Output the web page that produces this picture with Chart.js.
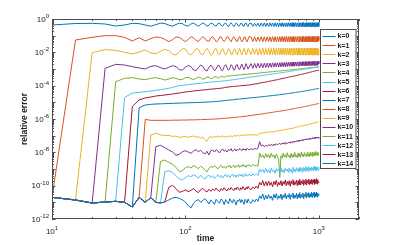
<!DOCTYPE html>
<html><head><meta charset="utf-8">
<script src="https://cdn.jsdelivr.net/npm/chart.js@4"></script>
<style>html,body{margin:0;padding:0;background:#fff;}canvas{display:block}</style>
</head><body>
<canvas id="c" width="397" height="245"></canvas>
<script>
// time grid (x values)
const times = [
10,15,20,25,30,35,40,45,50,55,
60,65,70,75,80,85,90,95,100,105,
110,115,120,125,130,135,140,145,150,155,
160,165,170,175,180,185,190,195,200,205,
210,215,220,225,230,235,240,245,250,255,
260,265,270,275,280,285,290,295,300,
310,320,330,340,350,360,370,380,390,400,
410,420,430,440,450,460,470,480,490,500,
510,520,530,540,550,560,570,580,590,600,
610,620,630,640,650,660,670,680,690,700,
710,720,730,740,750,760,770,780,790,800,
810,820,830,840,850,860,870,880,890,900,
910,920,930,940,950,960,970,980,990,1000];

const seriesNames = ['k=0','k=1','k=2','k=3','k=4','k=5','k=6','k=7','k=8','k=9','k=10','k=11','k=12','k=13','k=14'];

// log10(relative error); each list starts where the series leaves the k=14 curve
const k0 = [
-0.36,-0.27,-0.26,-0.30,-0.42,-0.36,-0.26,-0.28,-0.36,-0.43,
-0.34,-0.25,-0.27,-0.37,-0.43,-0.33,-0.25,-0.28,-0.39,-0.42,
-0.30,-0.24,-0.34,-0.44,-0.33,-0.24,-0.31,-0.43,-0.38,-0.25,
-0.27,-0.40,-0.42,-0.28,-0.25,-0.38,-0.44,-0.30,-0.24,-0.35,
-0.45,-0.34,-0.23,-0.33,-0.45,-0.36,-0.24,-0.30,-0.44,-0.40,
-0.25,-0.27,-0.42,-0.43,-0.27,-0.24,-0.40,-0.45,-0.29,
-0.24,-0.44,-0.26,-0.43,-0.25,-0.45,-0.24,-0.44,-0.23,-0.45,
-0.24,-0.45,-0.23,-0.44,-0.24,-0.46,-0.23,-0.45,-0.24,-0.46,
-0.23,-0.45,-0.22,-0.46,-0.24,-0.45,-0.23,-0.46,-0.22,-0.45,
-0.23,-0.46,-0.22,-0.45,-0.23,-0.46,-0.22,-0.46,-0.23,-0.45,
-0.22,-0.46,-0.23,-0.46,-0.22,-0.45,-0.22,-0.46,-0.23,-0.46,
-0.22,-0.46,-0.22,-0.45,-0.23,-0.46,-0.22,-0.46,-0.22,-0.45,
-0.23,-0.46,-0.22,-0.46,-0.22,-0.45,-0.23,-0.46,-0.22,-0.44];

const k1 = [
-1.26,-1.10,-1.00,-1.00,-1.10,-1.32,-1.12,-1.32,-1.18,
-1.08,-1.10,-1.22,-1.36,-1.24,-1.08,-1.10,-1.24,-1.36,-1.22,
-1.07,-1.12,-1.28,-1.36,-1.18,-1.06,-1.16,-1.32,-1.34,-1.14,
-1.06,-1.20,-1.36,-1.30,-1.10,-1.07,-1.24,-1.36,-1.24,-1.07,
-1.10,-1.28,-1.37,-1.18,-1.06,-1.16,-1.33,-1.34,-1.12,-1.06,
-1.22,-1.37,-1.28,-1.08,-1.08,-1.28,-1.37,-1.20,-1.06,
-1.08,-1.35,-1.07,-1.36,-1.08,-1.34,-1.06,-1.36,-1.07,-1.35,
-1.06,-1.36,-1.07,-1.37,-1.06,-1.36,-1.06,-1.37,-1.07,-1.36,
-1.06,-1.37,-1.05,-1.36,-1.06,-1.37,-1.05,-1.36,-1.06,-1.37,
-1.05,-1.36,-1.06,-1.37,-1.05,-1.37,-1.06,-1.36,-1.05,-1.37,
-1.05,-1.37,-1.06,-1.36,-1.05,-1.37,-1.05,-1.36,-1.06,-1.37,
-1.05,-1.36,-1.05,-1.37,-1.06,-1.37,-1.05,-1.36,-1.05,-1.37,
-1.06,-1.37,-1.05,-1.36,-1.05,-1.37,-1.06,-1.37,-1.05,-1.30];

const k2 = [
-2.02,-1.84,-1.88,-2.00,-2.10,-1.98,-1.86,-2.04,
-2.08,-1.94,-1.82,-1.90,-2.10,-2.16,-1.98,-1.78,-1.80,-2.06,
-2.16,-2.00,-1.78,-1.82,-2.08,-2.16,-1.92,-1.76,-1.94,-2.16,
-2.10,-1.82,-1.78,-2.06,-2.16,-1.90,-1.76,-1.98,-2.16,-2.02,
-1.78,-1.84,-2.12,-2.12,-1.82,-1.78,-2.06,-2.16,-1.90,-1.76,
-2.00,-2.16,-1.96,-1.76,-1.92,-2.16,-2.04,-1.76,-1.86,
-2.14,-1.76,-2.12,-1.78,-2.16,-1.76,-2.14,-1.75,-2.16,-1.76,
-2.15,-1.75,-2.16,-1.76,-2.14,-1.75,-2.16,-1.76,-2.15,-1.74,
-2.16,-1.75,-2.15,-1.74,-2.16,-1.75,-2.16,-1.74,-2.15,-1.76,
-2.16,-1.74,-2.17,-1.75,-2.16,-1.74,-2.16,-1.75,-2.17,-1.74,
-2.16,-1.75,-2.17,-1.74,-2.16,-1.75,-2.17,-1.74,-2.16,-1.75,
-2.17,-1.74,-2.16,-1.75,-2.17,-1.74,-2.16,-1.74,-2.17,-1.75,
-2.16,-1.74,-2.17,-1.75,-2.16,-1.74,-2.17,-1.75,-2.16,-1.80];

const k3 = [
-2.96,-2.72,-2.76,-2.86,-2.94,-3.00,-2.84,
-2.80,-2.92,-3.00,-2.90,-2.80,-2.86,-3.04,-3.06,-2.90,-2.78,
-2.86,-3.06,-3.10,-2.92,-2.76,-2.84,-3.06,-3.12,-2.90,-2.76,
-2.90,-3.10,-3.00,-2.78,-2.80,-3.04,-3.10,-2.86,-2.74,-2.92,
-3.08,-2.96,-2.74,-2.84,-3.06,-3.02,-2.76,-2.74,-2.98,-3.04,
-2.82,-2.70,-2.90,-3.04,-2.86,-2.68,-2.84,-3.00,-2.88,
-2.68,-2.96,-2.67,-2.95,-2.66,-2.94,-2.66,-2.93,-2.65,-2.92,
-2.64,-2.91,-2.64,-2.90,-2.63,-2.89,-2.63,-2.88,-2.62,-2.88,
-2.62,-2.87,-2.61,-2.86,-2.61,-2.86,-2.60,-2.85,-2.60,-2.84,
-2.59,-2.84,-2.59,-2.83,-2.58,-2.83,-2.58,-2.82,-2.58,-2.82,
-2.57,-2.81,-2.57,-2.81,-2.57,-2.80,-2.56,-2.80,-2.56,-2.80,
-2.56,-2.79,-2.56,-2.79,-2.55,-2.79,-2.55,-2.78,-2.55,-2.78,
-2.55,-2.78,-2.54,-2.78,-2.54,-2.77,-2.54,-2.77,-2.54,-2.70];

const k4 = [
-3.76,-3.56,-3.52,-3.60,-3.64,-3.56,
-3.52,-3.58,-3.66,-3.60,-3.52,-3.56,-3.64,-3.62,-3.52,-3.50,
-3.58,-3.64,-3.56,-3.48,-3.52,-3.62,-3.58,-3.48,-3.48,-3.58,
-3.56,-3.46,-3.46,-3.54,-3.52,-3.44,-3.44,-3.50,-3.46,-3.42,
-3.42,-3.42,-3.40,-3.40,-3.39,-3.38,-3.38,-3.37,-3.36,-3.36,
-3.35,-3.34,-3.34,-3.33,-3.33,-3.32,-3.31,-3.31,-3.30,
-3.29,-3.28,-3.27,-3.26,-3.25,-3.24,-3.23,-3.22,-3.21,-3.20,
-3.19,-3.18,-3.17,-3.17,-3.16,-3.15,-3.14,-3.14,-3.13,-3.12,
-3.12,-3.11,-3.10,-3.10,-3.09,-3.08,-3.08,-3.07,-3.07,-3.06,
-3.06,-3.05,-3.05,-3.04,-3.03,-3.03,-3.02,-3.02,-3.01,-3.00,
-3.00,-2.99,-2.99,-2.98,-2.98,-2.97,-2.97,-2.96,-2.96,-2.95,
-2.95,-2.94,-2.94,-2.93,-2.93,-2.92,-2.92,-2.91,-2.91,-2.90,
-2.90,-2.90,-2.89,-2.89,-2.88,-2.88,-2.87,-2.87,-2.86,-2.86];

const k5 = [
-4.70,-4.45,-4.40,-4.36,-4.32,
-4.28,-4.24,-4.20,-4.16,-4.10,-4.05,-4.00,-3.98,-3.96,-3.94,
-3.92,-3.90,-3.88,-3.87,-3.86,-3.84,-3.83,-3.82,-3.80,-3.79,
-3.78,-3.77,-3.76,-3.75,-3.74,-3.73,-3.72,-3.71,-3.70,-3.69,
-3.68,-3.67,-3.66,-3.65,-3.64,-3.63,-3.62,-3.61,-3.60,-3.59,
-3.58,-3.57,-3.56,-3.55,-3.54,-3.53,-3.52,-3.51,-3.50,
-3.49,-3.47,-3.46,-3.44,-3.43,-3.41,-3.40,-3.39,-3.37,-3.36,
-3.35,-3.34,-3.32,-3.31,-3.30,-3.29,-3.28,-3.27,-3.26,-3.25,
-3.24,-3.23,-3.22,-3.21,-3.20,-3.19,-3.18,-3.17,-3.16,-3.15,
-3.14,-3.13,-3.12,-3.11,-3.10,-3.10,-3.09,-3.08,-3.07,-3.06,
-3.06,-3.05,-3.04,-3.04,-3.03,-3.02,-3.02,-3.01,-3.00,-3.00,
-2.99,-2.98,-2.98,-2.97,-2.96,-2.96,-2.95,-2.94,-2.94,-2.93,
-2.93,-2.92,-2.92,-2.91,-2.91,-2.90,-2.90,-2.89,-2.89,-2.88];

const k6 = [
-5.25,-4.85,-4.74,-4.68,
-4.62,-4.59,-4.56,-4.53,-4.50,-4.47,-4.44,-4.41,-4.38,-4.36,
-4.34,-4.32,-4.30,-4.29,-4.27,-4.26,-4.25,-4.24,-4.22,-4.21,
-4.20,-4.19,-4.18,-4.17,-4.16,-4.15,-4.14,-4.12,-4.10,-4.09,
-4.08,-4.07,-4.06,-4.05,-4.05,-4.04,-4.03,-4.03,-4.02,-4.01,
-4.00,-4.00,-3.99,-3.99,-3.98,-3.98,-3.97,-3.97,-3.96,
-3.94,-3.92,-3.90,-3.89,-3.87,-3.85,-3.83,-3.81,-3.80,-3.78,
-3.76,-3.75,-3.73,-3.71,-3.70,-3.68,-3.67,-3.65,-3.64,-3.62,
-3.61,-3.59,-3.58,-3.56,-3.55,-3.54,-3.52,-3.51,-3.50,-3.48,
-3.47,-3.46,-3.45,-3.43,-3.42,-3.41,-3.40,-3.39,-3.38,-3.36,
-3.35,-3.34,-3.33,-3.32,-3.31,-3.30,-3.29,-3.28,-3.27,-3.25,
-3.24,-3.23,-3.22,-3.21,-3.20,-3.19,-3.18,-3.17,-3.16,-3.15,
-3.14,-3.13,-3.12,-3.11,-3.10,-3.10,-3.09,-3.08,-3.07,-3.06];

const k7 = [
-5.32,-5.16,-5.12,
-5.10,-5.09,-5.08,-5.07,-5.06,-5.05,-5.05,-5.04,-5.03,-5.03,
-5.02,-5.02,-5.01,-5.01,-5.00,-5.00,-4.99,-4.98,-4.98,-4.97,
-4.96,-4.96,-4.95,-4.94,-4.93,-4.92,-4.91,-4.90,-4.89,-4.88,
-4.87,-4.86,-4.86,-4.85,-4.84,-4.83,-4.82,-4.81,-4.81,-4.80,
-4.79,-4.79,-4.78,-4.77,-4.77,-4.76,-4.75,-4.75,-4.74,
-4.73,-4.72,-4.71,-4.70,-4.69,-4.68,-4.67,-4.66,-4.65,-4.64,
-4.63,-4.62,-4.61,-4.60,-4.59,-4.58,-4.57,-4.57,-4.56,-4.55,
-4.54,-4.53,-4.52,-4.51,-4.51,-4.50,-4.49,-4.48,-4.47,-4.46,
-4.45,-4.45,-4.44,-4.43,-4.42,-4.41,-4.41,-4.40,-4.39,-4.38,
-4.38,-4.37,-4.36,-4.35,-4.35,-4.34,-4.33,-4.32,-4.32,-4.31,
-4.30,-4.29,-4.28,-4.28,-4.27,-4.26,-4.25,-4.25,-4.24,-4.23,
-4.22,-4.22,-4.21,-4.20,-4.20,-4.19,-4.18,-4.17,-4.17,-4.16];

const k8 = [
-6.02,-6.08,
-6.08,-6.08,-6.08,-6.08,-6.07,-6.07,-6.07,-6.06,-6.06,-6.06,
-6.05,-6.05,-6.05,-6.04,-6.04,-6.03,-6.03,-6.02,-6.02,-6.01,
-6.01,-6.00,-6.00,-5.99,-5.98,-5.98,-5.97,-5.96,-5.95,-5.95,
-5.94,-5.93,-5.92,-5.92,-5.91,-5.90,-5.90,-5.89,-5.88,-5.87,
-5.87,-5.86,-5.85,-5.84,-5.84,-5.83,-5.82,-5.81,-5.80,
-5.79,-5.77,-5.76,-5.74,-5.73,-5.72,-5.70,-5.69,-5.67,-5.66,
-5.65,-5.63,-5.62,-5.61,-5.60,-5.59,-5.57,-5.56,-5.55,-5.54,
-5.53,-5.52,-5.51,-5.50,-5.49,-5.48,-5.47,-5.46,-5.44,-5.43,
-5.42,-5.41,-5.40,-5.39,-5.38,-5.37,-5.36,-5.35,-5.34,-5.33,
-5.32,-5.31,-5.30,-5.29,-5.28,-5.28,-5.27,-5.26,-5.25,-5.24,
-5.23,-5.22,-5.21,-5.20,-5.19,-5.18,-5.17,-5.16,-5.16,-5.15,
-5.14,-5.13,-5.12,-5.11,-5.10,-5.10,-5.09,-5.08,-5.07,-5.06];

const k9 = [
-6.95,
-6.86,-6.95,-7.00,-6.98,-7.05,-7.02,-7.10,-7.08,-7.04,-7.10,
-7.06,-7.02,-7.10,-7.06,-7.16,-7.08,-7.24,-7.34,-7.10,-7.06,
-7.12,-7.04,-7.08,-7.02,-7.10,-7.06,-7.00,-7.08,-7.04,-7.10,
-7.02,-7.06,-7.00,-7.08,-7.03,-6.98,-7.04,-7.00,-6.97,-7.02,
-6.96,-7.00,-6.97,-6.94,-6.99,-6.95,-6.98,-6.94,-6.96,
-6.93,-6.97,-6.94,-6.98,-6.95,-6.84,-6.86,-6.82,-6.84,-6.80,
-6.81,-6.78,-6.79,-6.76,-6.77,-6.74,-6.75,-6.72,-6.73,-6.70,
-6.70,-6.68,-6.68,-6.66,-6.65,-6.64,-6.63,-6.61,-6.60,-6.59,
-6.58,-6.57,-6.56,-6.54,-6.53,-6.52,-6.51,-6.49,-6.48,-6.47,
-6.45,-6.44,-6.43,-6.42,-6.41,-6.40,-6.39,-6.38,-6.37,-6.36,
-6.35,-6.34,-6.33,-6.32,-6.31,-6.30,-6.29,-6.28,-6.27,-6.26,
-6.25,-6.24,-6.23,-6.22,-6.21,-6.20,-6.19,-6.18,-6.17,-6.16];

const k10 = [
-7.66,-7.58,-7.72,-7.86,-7.98,-8.18,-8.12,-7.96,-7.90,-7.98,
-8.06,-7.92,-7.84,-7.96,-7.88,-8.02,-8.10,-7.94,-8.16,-7.90,
-7.86,-7.98,-7.84,-7.92,-8.04,-7.88,-7.80,-7.94,-7.86,-7.98,
-7.84,-7.90,-7.78,-7.94,-7.86,-7.80,-7.92,-7.82,-7.88,-7.76,
-7.84,-7.90,-7.78,-7.86,-7.80,-7.88,-7.76,-7.82,-7.86,
-7.78,-7.84,-7.76,-7.82,-7.74,-7.36,-7.62,-7.56,-7.66,-7.58,
-7.64,-7.54,-7.60,-7.52,-7.62,-7.50,-7.58,-7.48,-7.56,-7.50,
-7.46,-7.54,-7.44,-7.50,-7.42,-7.52,-7.40,-7.48,-7.42,-7.38,
-7.46,-7.36,-7.42,-7.34,-7.40,-7.32,-7.38,-7.30,-7.36,-7.28,
-7.34,-7.26,-7.32,-7.24,-7.30,-7.22,-7.28,-7.24,-7.20,-7.26,
-7.20,-7.24,-7.18,-7.22,-7.16,-7.22,-7.14,-7.20,-7.16,-7.12,
-7.18,-7.12,-7.16,-7.10,-7.16,-7.12,-7.08,-7.14,-7.10,-7.16];

const k11 = [
-8.56,-8.46,-8.60,-8.72,-8.90,-9.16,-9.10,-8.92,-8.86,
-8.94,-8.80,-8.86,-8.98,-8.84,-8.92,-9.06,-9.18,-8.96,-8.84,
-8.92,-8.80,-8.88,-9.00,-8.86,-8.78,-8.94,-8.84,-8.96,-8.82,
-8.88,-8.76,-8.94,-8.84,-8.78,-8.92,-8.80,-8.86,-8.74,-8.90,
-8.80,-8.86,-8.72,-8.84,-8.78,-8.90,-8.76,-8.82,-8.74,
-8.86,-8.72,-8.82,-8.76,-8.84,-8.04,-8.30,-8.14,-8.36,-8.08,
-8.30,-8.12,-8.34,-8.06,-8.28,-8.16,-8.38,-8.10,-8.26,-8.42,
-9.50,-8.20,-8.36,-8.04,-8.28,-8.14,-8.32,-8.02,-8.26,-8.18,
-8.34,-8.06,-8.30,-8.12,-8.28,-8.00,-8.26,-8.16,-8.32,-8.04,
-8.24,-8.12,-8.30,-7.98,-8.22,-8.10,-8.28,-8.02,-8.20,-8.14,
-8.26,-7.98,-8.22,-8.08,-8.26,-8.00,-8.18,-8.12,-8.24,-7.98,
-8.20,-8.06,-8.22,-7.96,-8.16,-8.08,-8.20,-7.98,-8.14,-8.10];

const k12 = [
-9.16,-9.10,-9.20,-9.40,-9.60,-9.66,-9.52,-9.40,
-9.46,-9.34,-9.42,-9.56,-9.38,-9.50,-9.62,-9.44,-9.36,-9.52,
-9.40,-9.58,-9.44,-9.34,-9.50,-9.38,-9.54,-9.42,-9.32,-9.48,
-9.36,-9.52,-9.40,-9.30,-9.46,-9.36,-9.50,-9.34,-9.44,-9.30,
-9.42,-9.32,-9.48,-9.36,-9.28,-9.44,-9.34,-9.40,-9.30,
-9.42,-9.30,-9.38,-9.28,-9.40,-9.00,-9.18,-9.02,-9.22,-8.96,
-9.20,-9.04,-9.24,-8.94,-9.16,-9.06,-9.26,-8.98,-9.14,-9.02,
-9.22,-8.92,-9.18,-9.04,-9.24,-8.96,-9.12,-9.00,-9.20,-8.94,
-9.16,-9.02,-9.22,-8.90,-9.14,-9.00,-9.18,-8.92,-9.10,-8.98,
-9.16,-8.88,-9.12,-8.96,-9.18,-8.90,-9.08,-8.94,-9.14,-8.86,
-9.10,-8.92,-9.14,-8.86,-9.06,-8.94,-9.12,-8.88,-9.04,-8.92,
-9.10,-8.84,-9.06,-8.90,-9.12,-8.86,-9.02,-8.92,-9.08,-8.88];

const k13 = [
-10.10,-9.98,-10.18,-10.40,-10.34,-10.26,-10.36,
-10.28,-10.18,-10.32,-10.42,-10.24,-10.16,-10.30,-10.38,-10.22,-10.34,
-10.20,-10.30,-10.14,-10.26,-10.36,-10.18,-10.28,-10.12,-10.24,-10.32,
-10.16,-10.26,-10.10,-10.22,-10.30,-10.14,-10.24,-10.08,-10.20,-10.28,
-10.12,-10.22,-10.06,-10.18,-10.26,-10.10,-10.20,-10.04,-10.16,
-10.24,-10.08,-10.18,-10.02,-10.16,-9.80,-9.96,-9.70,-10.02,-9.76,
-10.00,-9.72,-9.98,-9.80,-10.06,-9.74,-9.94,-9.68,-10.04,-9.78,
-9.96,-9.70,-10.02,-9.76,-9.92,-9.66,-10.00,-9.74,-9.94,-9.70,
-10.04,-9.72,-9.90,-9.64,-9.98,-9.76,-9.92,-9.66,-10.00,-9.70,
-9.94,-9.62,-9.96,-9.72,-9.88,-9.64,-9.98,-9.70,-9.90,-9.62,
-9.96,-9.68,-9.86,-9.60,-9.94,-9.70,-9.88,-9.62,-9.92,-9.66,
-9.84,-9.60,-9.92,-9.68,-9.86,-9.58,-9.90,-9.64,-9.82,-9.76];

const k14 = [
-10.70,-10.86,-11.04,-10.98,-10.94,-11.00,-11.28,-10.70,-11.00,-10.72,
-11.00,-11.04,-10.98,-10.86,-10.74,-10.70,-10.76,-10.86,-10.98,-11.20,
-11.34,-11.06,-10.90,-10.84,-11.00,-10.88,-10.78,-10.92,-11.10,-10.86,
-10.96,-11.12,-10.82,-10.94,-11.06,-10.80,-10.90,-11.14,-10.84,-10.98,
-11.08,-10.78,-10.92,-11.04,-10.82,-10.96,-11.16,-10.86,-10.94,-10.80,
-11.02,-10.84,-10.96,-11.12,-10.82,-10.90,-11.04,-10.80,-10.94,
-11.06,-10.84,-10.98,-10.80,-10.94,-10.60,-10.78,-10.50,-10.84,-10.58,
-10.80,-10.54,-10.76,-10.62,-10.88,-10.52,-10.74,-10.48,-10.82,-10.60,
-10.76,-10.50,-10.84,-10.56,-10.72,-10.46,-10.80,-10.58,-10.70,-10.48,
-10.82,-10.54,-10.68,-10.44,-10.78,-10.56,-10.72,-10.46,-10.80,-10.52,
-10.70,-10.42,-10.76,-10.54,-10.68,-10.44,-10.78,-10.50,-10.66,-10.40,
-10.74,-10.48,-10.64,-10.42,-10.72,-10.50,-10.66,-10.40,-10.70,-10.46,
-10.62,-10.40,-10.70,-10.48,-10.64,-10.38,-10.68,-10.44,-10.60,-10.50];

const seriesLogs = [k0,k1,k2,k3,k4,k5,k6,k7,k8,k9,k10,k11,k12,k13,k14];

// axis tick labels (exponents of 10)
const xTickExps = [1,2,3];
const yTickExps = [0,-2,-4,-6,-8,-10,-12];

const palette = ['#0072BD','#D95319','#EDB120','#7E2F8E','#77AC30','#4DBEEE','#A2142F'];

const datasets = seriesLogs.map((own, k) => {
  const lead = times.length - own.length;
  const full = k14.slice(0, lead).concat(own);
  return {
    label: seriesNames[k],
    data: full.map((v, i) => ({x: times[i], y: Math.pow(10, v)})),
    borderColor: palette[k % 7],
    backgroundColor: palette[k % 7],
    borderWidth: 1,
    pointRadius: 0,
    fill: false,
    tension: 0,
    order: 14 - k
  };
});

const TXT = '#222222';
const FONT = '"Liberation Sans", Arial, Helvetica, sans-serif';

function powLabel(ctx, exp, x, y, align) {
  const base = '10', ex = String(exp);
  ctx.font = '8px ' + FONT;
  const wb = ctx.measureText(base).width;
  ctx.font = '6px ' + FONT;
  const we = ctx.measureText(ex).width;
  const w = wb + we;
  let x0 = align === 'right' ? x - w : x - w / 2;
  ctx.textAlign = 'left';
  ctx.textBaseline = 'alphabetic';
  ctx.font = '8px ' + FONT;
  ctx.fillText(base, x0, y);
  ctx.font = '6px ' + FONT;
  ctx.fillText(ex, x0 + wb, y - 3.8);
}

const overlay = {
  id: 'overlay',
  afterDraw(chart) {
    const {ctx, chartArea: a, scales: {x, y}} = chart;
    ctx.save();
    const L = Math.round(a.left), R = Math.round(a.right), T = Math.round(a.top), B = Math.round(a.bottom);
    ctx.strokeStyle = '#4d4d4d';
    ctx.lineWidth = 1;
    // ticks
    ctx.beginPath();
    const xt = [];
    for (let e = 1; e <= 3; e++) for (let m = 1; m <= 9; m++) { const v = m * Math.pow(10, e); if (v <= 2000) xt.push([v, m === 1]); }
    xt.push([2000, false]);
    xt.forEach(([v, major]) => {
      const px = Math.round(x.getPixelForValue(v)) + 0.5;
      const len = major ? 3.5 : 2;
      ctx.moveTo(px, B); ctx.lineTo(px, B - len);
      ctx.moveTo(px, T); ctx.lineTo(px, T + len);
    });
    for (let e = -12; e <= 0; e++) for (let m = 1; m <= 9; m++) {
      const v = m * Math.pow(10, e);
      if (v > 1) continue;
      const py = Math.round(y.getPixelForValue(v)) + 0.5;
      const len = m === 1 ? 3.5 : 2;
      ctx.moveTo(L, py); ctx.lineTo(L + len, py);
      ctx.moveTo(R, py); ctx.lineTo(R - len, py);
    }
    ctx.stroke();
    // box
    ctx.strokeRect(L + 0.5, T + 0.5, R - L - 1, B - T - 1);

    // tick labels
    ctx.fillStyle = TXT;
    xTickExps.forEach(e => {
      const px = x.getPixelForValue(Math.pow(10, e));
      powLabel(ctx, e, px, B + 14.5, 'center');
    });
    yTickExps.forEach(e => {
      const py = y.getPixelForValue(Math.pow(10, e));
      powLabel(ctx, e, L - 3, py + 2.8, 'right');
    });

    // axis titles
    ctx.font = 'bold 8.5px ' + FONT;
    ctx.textAlign = 'center';
    ctx.textBaseline = 'alphabetic';
    ctx.fillText('time', (L + R) / 2, 240.5);
    ctx.save();
    ctx.translate(27, (T + B) / 2);
    ctx.rotate(-Math.PI / 2);
    ctx.fillText('relative error', 0, 0);
    ctx.restore();

    // legend
    const lx = 320.5, ly = 29.5, lw = 35.5, lh = 139;
    ctx.fillStyle = '#ffffff';
    ctx.fillRect(lx, ly, lw, lh);
    ctx.strokeStyle = '#4d4d4d';
    ctx.strokeRect(lx, ly, lw, lh);
    ctx.font = 'bold 7px ' + FONT;
    ctx.textAlign = 'left';
    ctx.textBaseline = 'middle';
    chart.data.datasets.forEach((ds, i) => {
      const cy = 36 + i * 9.1;
      ctx.strokeStyle = ds.borderColor;
      ctx.lineWidth = 1;
      ctx.beginPath();
      ctx.moveTo(322.5, Math.round(cy) + 0.5);
      ctx.lineTo(335.5, Math.round(cy) + 0.5);
      ctx.stroke();
      ctx.fillStyle = TXT;
      ctx.fillText(ds.label, 337.5, cy + 0.5);
    });
    ctx.restore();
  }
};

new Chart(document.getElementById('c'), {
  type: 'line',
  data: {datasets},
  options: {
    responsive: false,
    animation: false,
    devicePixelRatio: 1,
    layout: {padding: {left: 0, right: 38, top: 19, bottom: 0}},
    plugins: {legend: {display: false}, tooltip: {enabled: false}},
    scales: {
      x: {type: 'logarithmic', min: 10, max: 2000, grid: {display: false}, border: {display: false},
          ticks: {display: false}, afterFit(s) { s.height = 26; }},
      y: {type: 'logarithmic', min: 1e-12, max: 1, grid: {display: false}, border: {display: false},
          ticks: {display: false}, afterFit(s) { s.width = 52; }}
    }
  },
  plugins: [overlay]
});
</script>
</body></html>
